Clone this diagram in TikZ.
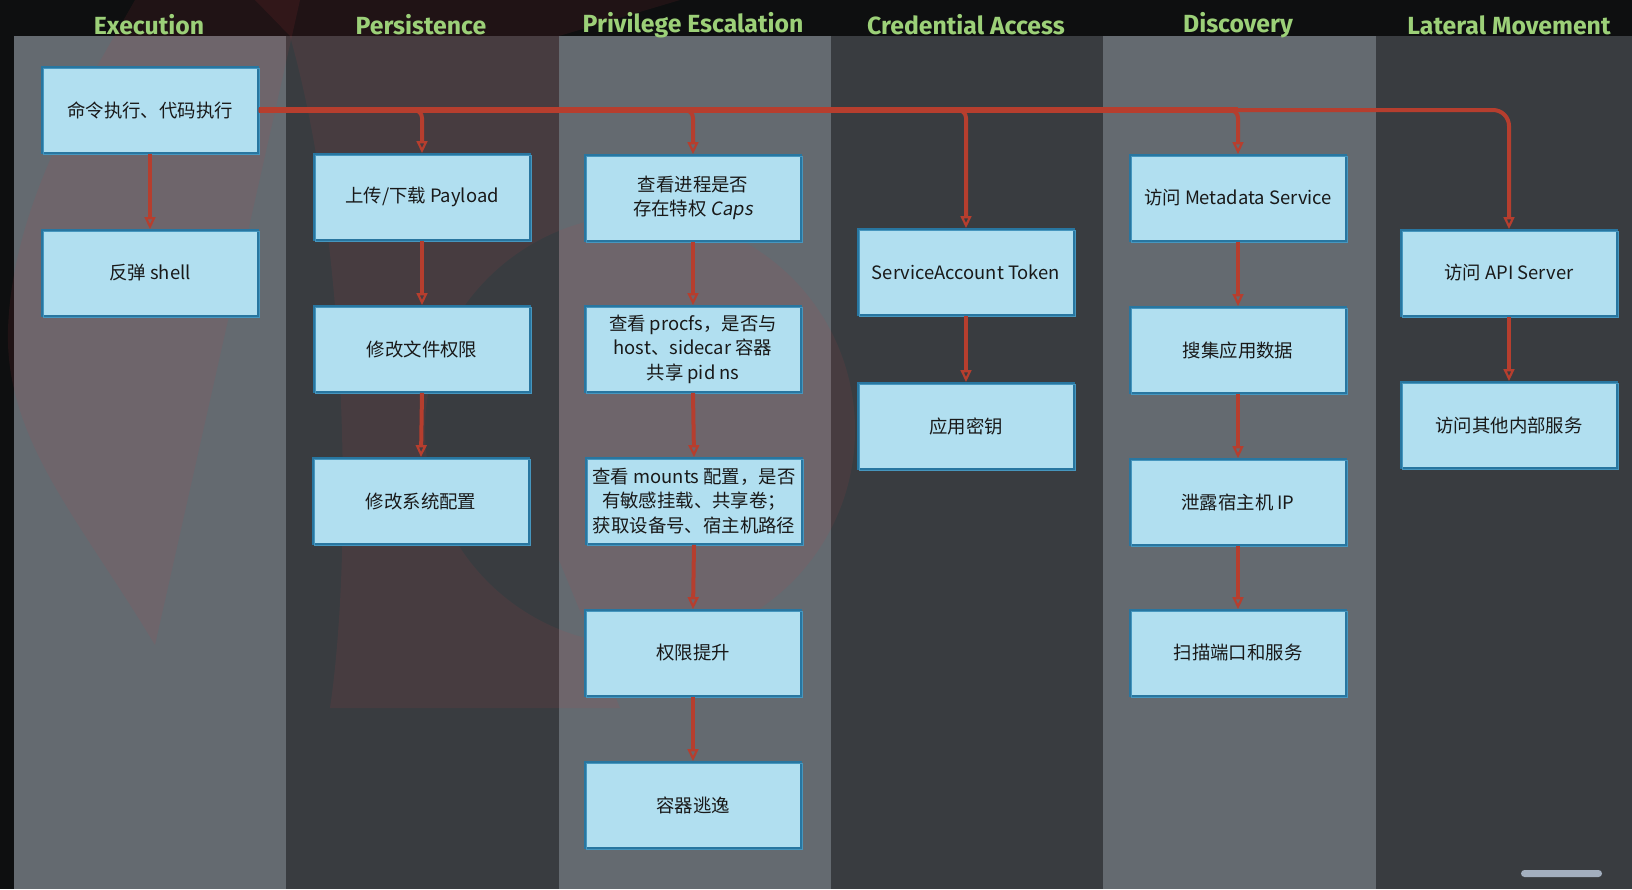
\documentclass[tikz,border=0pt]{standalone}
\usepackage{fontspec}
\setmainfont{Noto Sans CJK SC}
\newfontfamily\headfont{Fira Sans}
\newfontfamily\slantfont{Noto Sans CJK SC}[FakeSlant=0.18]
\usetikzlibrary{arrows.meta}

\definecolor{bandblack}{RGB}{14,15,16}
\definecolor{collight}{RGB}{100,106,112}
\definecolor{coldark}{RGB}{57,60,64}
\definecolor{headgreen}{RGB}{156,208,120}
\definecolor{boxfill}{RGB}{177,223,240}
\definecolor{boxline}{RGB}{40,118,160}
\definecolor{boxline2}{RGB}{70,150,190}
\definecolor{arrowred}{RGB}{182,62,46}
\definecolor{marktint}{RGB}{200,60,70}
\definecolor{barcol}{RGB}{163,175,191}

\tikzset{
  stepbox/.style={rectangle, fill=boxfill, draw=boxline, line width=0.9pt,
    minimum width=108pt, minimum height=43pt, align=center,
    font=\fontsize{9.2pt}{12.2pt}\selectfont, text=black!90,
    postaction={draw=boxline2, line width=0.45pt,
      transform canvas={xshift=0.6pt, yshift=-0.6pt}}},
  colhead/.style={font=\headfont\bfseries\fontsize{12.4pt}{14pt}\selectfont, text=headgreen},
  flow/.style={draw=arrowred, line width=2pt, rounded corners=4pt,
    -{Triangle[open, length=6pt, width=5.4pt, line width=1.1pt]}},
  trunk/.style={draw=arrowred, line width=2.6pt},
  tint/.style={fill=marktint, fill opacity=0.1}
}

\begin{document}
\begin{tikzpicture}[x=0.5pt, y=-0.5pt]
\useasboundingbox (0,0) rectangle (1632,889);

% swimlane background
\fill[bandblack] (0,0) rectangle (1632,889);
\fill[collight] (13.5,36) rectangle (286,889);
\fill[coldark]  (286,36) rectangle (559,889);
\fill[collight] (559,36) rectangle (830.5,889);
\fill[coldark]  (830.5,36) rectangle (1103,889);
\fill[collight] (1103,36) rectangle (1376,889);
\fill[coldark]  (1376,36) rectangle (1632,889);

% faint red emblem behind the lanes
\fill[tint] (155,645) .. controls (80,520) and (5,440) .. (8,330)
  .. controls (12,200) and (90,80) .. (135,0) -- (300,0) -- cycle;
\fill[tint, even odd rule] (255,0) -- (680,0) -- (559,36) -- (559,560)
  -- (620,708) -- (330,708) .. controls (352,560) and (350,250) .. (290,36) -- cycle
  (640,430) circle [radius=215];

% lane titles
\node[colhead] (hExec) at (149,25) {Execution};
\node[colhead] (hPers) at (421,25) {Persistence};
\node[colhead] (hPriv) at (693,25) {Privilege Escalation};
\node[colhead] (hCred) at (966,25) {Credential Access};
\node[colhead] (hDisc) at (1238,25) {Discovery};
\node[colhead] (hLat)  at (1509,25) {Lateral Movement};

% Execution
\node[stepbox] (e1) at (150,110) {命令执行、代码执行};
\node[stepbox] (e2) at (150,273) {反弹 shell};
% Persistence
\node[stepbox] (p1) at (422,197) {上传/下载 Payload};
\node[stepbox] (p2) at (422,349) {修改文件权限};
\node[stepbox] (p3) at (421,501) {修改系统配置};
% Privilege Escalation
\node[stepbox] (v1) at (693,198) {查看进程是否\\存在特权 {\slantfont Caps}};
\node[stepbox] (v2) at (693,349) {查看 procfs，是否与\\host、sidecar 容器\\共享 pid ns};
\node[stepbox] (v3) at (694,501) {查看 mounts 配置，是否\\有敏感挂载、共享卷；\\获取设备号、宿主机路径};
\node[stepbox] (v4) at (693,653) {权限提升};
\node[stepbox] (v5) at (693,805) {容器逃逸};
% Credential Access
\node[stepbox] (c1) at (966,272) {ServiceAccount Token};
\node[stepbox] (c2) at (966,426) {应用密钥};
% Discovery
\node[stepbox] (d1) at (1238,198) {访问 Metadata Service};
\node[stepbox] (d2) at (1238,350) {搜集应用数据};
\node[stepbox] (d3) at (1238,502) {泄露宿主机 IP};
\node[stepbox] (d4) at (1238,653) {扫描端口和服务};
% Lateral Movement
\node[stepbox] (l1) at (1509,273) {访问 API Server};
\node[stepbox] (l2) at (1509,425) {访问其他内部服务};

% fan-out from the entry step
\draw[trunk] (e1.east) -- (d1.north |- e1.east);
\draw[flow] (e1.east) -| (p1.north);
\draw[flow] (e1.east) -| (v1.north);
\draw[flow] (e1.east) -| (c1.north);
\draw[flow] (e1.east) -| (d1.north);
\draw[flow, rounded corners=8pt] (e1.east) -| (l1.north);

% chains inside each lane
\draw[flow] (e1.south) -- (e2.north);
\draw[flow] (p1.south) -- (p2.north);
\draw[flow] (p2.south) -- (p3.north);
\draw[flow] (v1.south) -- (v2.north);
\draw[flow] (v2.south) -- (v3.north);
\draw[flow] (v3.south) -- (v4.north);
\draw[flow] (v4.south) -- (v5.north);
\draw[flow] (c1.south) -- (c2.north);
\draw[flow] (d1.south) -- (d2.north);
\draw[flow] (d2.south) -- (d3.north);
\draw[flow] (d3.south) -- (d4.north);
\draw[flow] (l1.south) -- (l2.north);

% scroll indicator
\fill[barcol, rounded corners=1.75pt] (1521,870) rectangle (1602,877);
\end{tikzpicture}
\end{document}
